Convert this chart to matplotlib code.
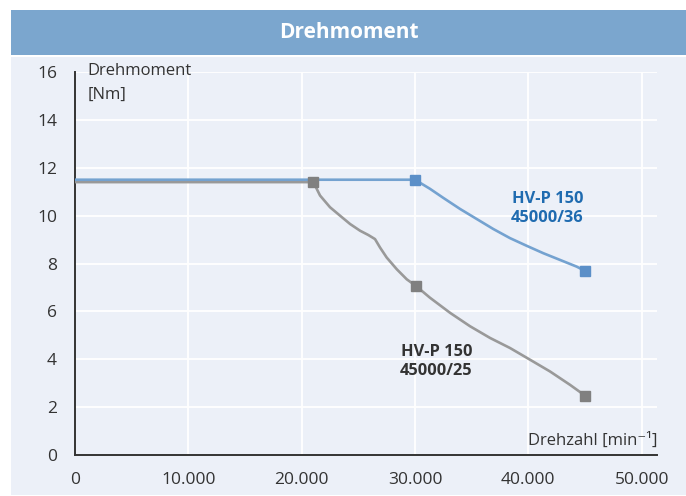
import matplotlib
matplotlib.use("Agg")
import matplotlib.pyplot as plt
from matplotlib.patches import Rectangle
from matplotlib.ticker import FuncFormatter

plt.rcParams['font.family'] = ['Open Sans', 'DejaVu Sans']

# Data
speed_36 = [0, 30000, 31320, 32500, 33970, 35440, 36910, 38380, 39850, 41320, 42790, 44260, 45000]
torque_36 = [11.5, 11.5, 11.12, 10.74, 10.28, 9.86, 9.44, 9.06, 8.74, 8.43, 8.15, 7.87, 7.69]
marker_speed_36 = [30000, 45000]
marker_torque_36 = [11.5, 7.69]

speed_25 = [0, 21030, 21620, 22500, 23380, 24270, 25150, 25880, 26470, 26910, 27500,
            28390, 29270, 30090, 31320, 33090, 34850, 36620, 38380, 40150, 41910, 43680, 45000]
torque_25 = [11.4, 11.4, 10.84, 10.35, 10.00, 9.65, 9.37, 9.19, 9.02, 8.67, 8.25,
             7.76, 7.34, 7.06, 6.57, 5.94, 5.38, 4.89, 4.47, 3.98, 3.49, 2.93, 2.48]
marker_speed_25 = [21030, 30090, 45000]
marker_torque_25 = [11.4, 7.06, 2.48]

x_ticks = [0, 10000, 20000, 30000, 40000, 50000]
y_ticks = [0, 2, 4, 6, 8, 10, 12, 14, 16]

W, H = 686, 496
fig = plt.figure(figsize=(W / 100, H / 100), dpi=100)
fig.patch.set_facecolor('white')

# Background axes for title band and panel
bg = fig.add_axes([0, 0, 1, 1], zorder=-10)
bg.set_xlim(0, W)
bg.set_ylim(H, 0)
bg.axis('off')
bg.add_patch(Rectangle((11, 10), W - 11, 45, facecolor='#7BA6CE', edgecolor='none'))
bg.add_patch(Rectangle((11, 57), W - 11, 495 - 57, facecolor='#ECF0F8', edgecolor='none'))
bg.text((11 + W) / 2, 32, 'Drehmoment', color='white',
        fontsize=15, fontweight='bold', ha='center', va='center')

ax = fig.add_axes([75 / W, 41 / H, (657 - 75) / W, (455 - 72) / H], zorder=1)
ax.set_facecolor('none')
ax.set_xlim(0, 51350)
ax.set_ylim(0, 16)
ax.set_xticks(x_ticks)
ax.set_yticks(y_ticks)
ax.xaxis.set_major_formatter(FuncFormatter(lambda v, p: f"{int(v):,}".replace(',', '.')))
ax.grid(True, color='white', linewidth=1.3)
ax.set_axisbelow(True)
for s in ['top', 'right']:
    ax.spines[s].set_visible(False)
for s in ['left', 'bottom']:
    ax.spines[s].set_color('#333333')
    ax.spines[s].set_linewidth(1.4)
ax.tick_params(axis='both', length=0, labelsize=12.5, colors='#333333')
ax.tick_params(axis='y', pad=13)
ax.tick_params(axis='x', pad=12)

ax.plot(speed_25, torque_25, color='#999999', linewidth=1.9, zorder=3, solid_joinstyle='round')
ax.plot(speed_36, torque_36, color='#74A2D0', linewidth=1.9, zorder=4, solid_joinstyle='round')
ax.plot(marker_speed_25, marker_torque_25, linestyle='none', marker='s', markersize=6.5,
        color='#808080', zorder=5)
ax.plot(marker_speed_36, marker_torque_36, linestyle='none', marker='s', markersize=6.5,
        color='#5B8FC8', zorder=6)

ax.text(0.022, 0.971, 'Drehmoment\n[Nm]', transform=ax.transAxes, ha='left', va='center',
        fontsize=12, color='#333333', linespacing=1.65)
ax.text(1.0, 0.036, 'Drehzahl [min⁻¹]', transform=ax.transAxes, ha='right', va='center',
        fontsize=12, color='#333333')

ax.text(41690, 10.28, 'HV-P 150\n45000/36', ha='center', va='center', fontsize=11.8,
        fontweight='bold', color='#1F6BB0', linespacing=1.25)
ax.text(31900, 3.9, 'HV-P 150\n45000/25', ha='center', va='center', fontsize=11.8,
        fontweight='bold', color='#333333', linespacing=1.25)

fig.savefig('out.png', dpi=100, facecolor='white')
